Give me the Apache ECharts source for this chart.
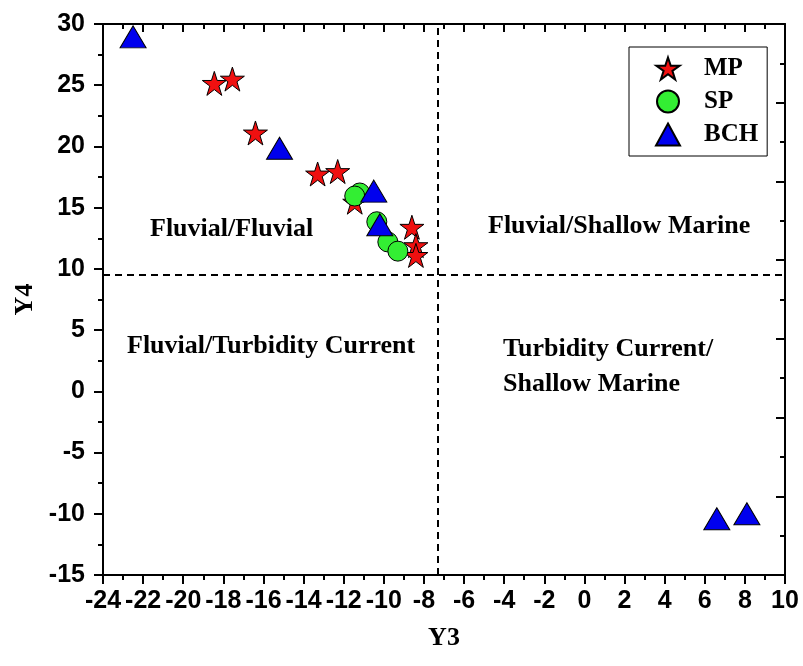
<!DOCTYPE html>
<html>
<head>
<meta charset="utf-8">
<script src="https://cdn.jsdelivr.net/npm/echarts@6/dist/echarts.min.js"></script>
<style>
  html, body { margin: 0; padding: 0; background: #fff; }
  #chart { width: 803px; height: 666px; }
</style>
</head>
<body>
<div id="chart"></div>
<script>
// values (Y3 = x, Y4 = y)
const mpX = [-18.45, -17.55, -16.4, -13.3, -12.3, -11.45, -8.6, -8.4, -8.4];
const mpY = [25.15, 25.5, 21.1, 17.75, 17.95, 15.45, 13.4, 11.9, 11.1];
const spX = [-11.2, -11.45, -10.35, -9.8, -9.3];
const spY = [16.2, 15.95, 13.85, 12.2, 11.45];
const bchX = [-22.5, -15.2, -10.5, -10.2, 6.6, 8.1];
const bchY = [28.95, 19.85, 16.35, 13.6, -10.4, -10.0];

// dashed dividers
const dividerX = -7.3;
const dividerY = 9.5;

const seriesNames = ['MP', 'SP', 'BCH'];

const starPath = 'path://M50,0 L62,36 L100,36 L69,58 L81,95 L50,72 L19,95 L31,58 L0,36 L38,36 Z';

const zip = (xs, ys) => xs.map((x, i) => [x, ys[i]]);

const black = '#000';
const tickFont = { fontSize: 25, fontWeight: 'bold', fontFamily: 'Liberation Sans', color: black };
const serif = 'Liberation Serif';
const noteFont = 'bold 26px "Liberation Serif"';

function frameAxis(extra) {
  return Object.assign({
    type: 'value',
    axisLine: { show: true, onZero: false, lineStyle: { color: black, width: 2 } },
    axisTick: { show: true, length: 9, lineStyle: { color: black, width: 2 } },
    minorTick: { show: true, splitNumber: 2, length: 5, lineStyle: { color: black, width: 2 } },
    splitLine: { show: false },
    minorSplitLine: { show: false },
  }, extra);
}

const chart = echarts.init(document.getElementById('chart'));

const option = {
  backgroundColor: '#fff',
  animation: false,
  grid: { left: 103, right: 18, top: 24, bottom: 91, containLabel: false },
  legend: {
    data: seriesNames,
    orient: 'vertical',
    left: 629,
    top: 47,
    padding: [9, 9, 9, 26],
    itemWidth: 24,
    itemHeight: 22,
    itemGap: 8,
    borderColor: black,
    borderWidth: 1,
    borderRadius: 0,
    backgroundColor: '#fff',
    textStyle: { fontSize: 25, fontWeight: 'bold', fontFamily: serif, color: black, padding: [0, 0, 0, 19] },
  },
  xAxis: [
    frameAxis({
      min: -24, max: 10, interval: 2, position: 'bottom',
      axisLabel: Object.assign({ margin: 14 }, tickFont),
      name: 'Y3', nameLocation: 'middle', nameGap: 50,
      nameTextStyle: { fontSize: 26, fontWeight: 'bold', fontFamily: serif, color: black },
    }),
    frameAxis({
      min: -24, max: 10, interval: 2, position: 'top',
      axisTick: { show: true, inside: true, length: 8, lineStyle: { color: black, width: 2 } },
      axisLabel: { show: false },
    }),
  ],
  yAxis: [
    frameAxis({
      min: -15, max: 30, interval: 5, position: 'left',
      axisLabel: Object.assign({ margin: 18 }, tickFont),
      name: 'Y4', nameLocation: 'middle', nameGap: 64,
      nameTextStyle: { fontSize: 26, fontWeight: 'bold', fontFamily: serif, color: black },
    }),
    frameAxis({
      min: 0, max: 14, interval: 2, position: 'right',
      axisTick: { show: true, inside: true, length: 9, lineStyle: { color: black, width: 2 } },
      axisLabel: { show: false },
    }),
  ],
  graphic: [
    { type: 'text', x: 150, y: 229, style: { text: 'Fluvial/Fluvial', font: noteFont, fill: black, verticalAlign: 'middle' } },
    { type: 'text', x: 488, y: 226, style: { text: 'Fluvial/Shallow Marine', font: noteFont, fill: black, verticalAlign: 'middle' } },
    { type: 'text', x: 127, y: 346, style: { text: 'Fluvial/Turbidity Current', font: noteFont, fill: black, verticalAlign: 'middle' } },
    { type: 'text', x: 503, y: 349, style: { text: 'Turbidity Current/', font: noteFont, fill: black, verticalAlign: 'middle' } },
    { type: 'text', x: 503, y: 384, style: { text: 'Shallow Marine', font: noteFont, fill: black, verticalAlign: 'middle' } },
  ],
  series: [
    {
      name: 'MP',
      type: 'scatter',
      data: zip(mpX, mpY),
      symbol: starPath,
      symbolSize: 24,
      itemStyle: { color: '#f01010', borderColor: black, borderWidth: 1, opacity: 1 },
      markLine: {
        silent: true,
        symbol: 'none',
        label: { show: false },
        lineStyle: { color: black, width: 2, type: [7, 5] },
        data: [{ xAxis: dividerX }, { yAxis: dividerY }],
      },
    },
    {
      name: 'SP',
      type: 'scatter',
      data: zip(spX, spY),
      symbol: 'circle',
      symbolSize: 20,
      itemStyle: { color: '#33ee33', borderColor: black, borderWidth: 1, opacity: 1 },
    },
    {
      name: 'BCH',
      type: 'scatter',
      data: zip(bchX, bchY),
      symbol: 'triangle',
      symbolSize: [26, 22],
      itemStyle: { color: '#0000ee', borderColor: black, borderWidth: 1, opacity: 1 },
    },
  ],
};

chart.setOption(option);
</script>
</body>
</html>
